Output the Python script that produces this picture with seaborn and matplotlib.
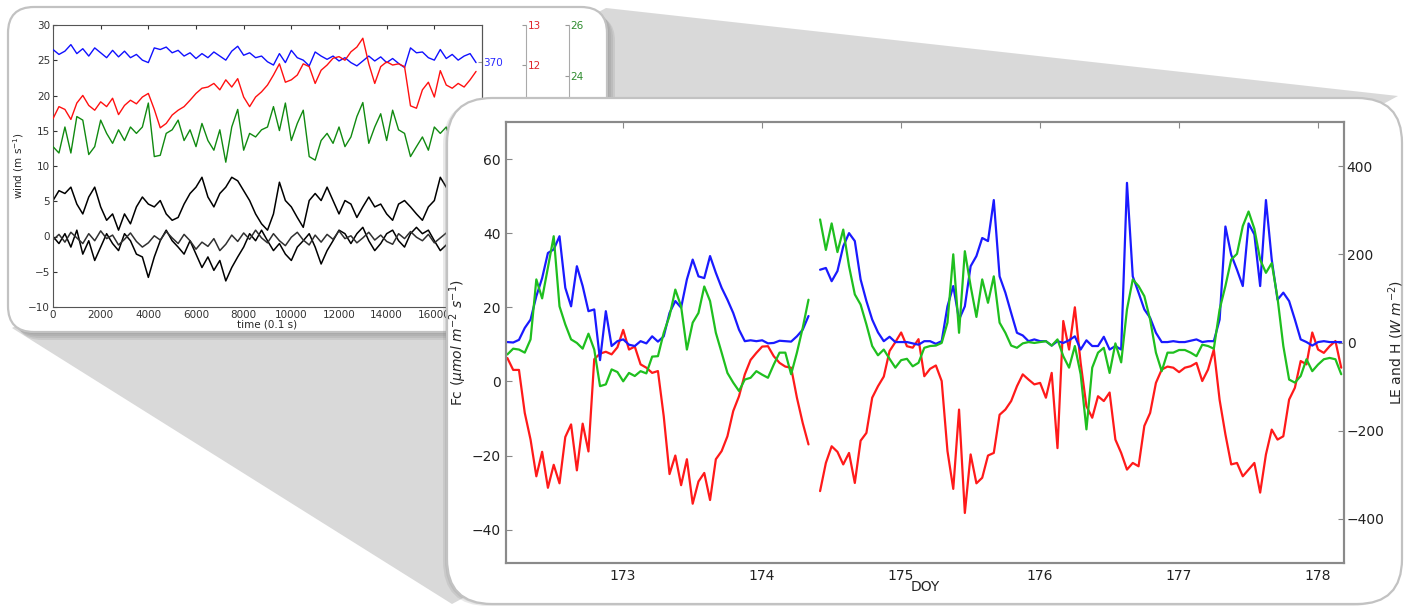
import numpy as np
import pandas as pd
import matplotlib
matplotlib.use("Agg")
import matplotlib.pyplot as plt
from matplotlib.patches import FancyBboxPatch, Polygon
import seaborn as sns

sns.set_style("white")
plt.rcParams["font.family"] = ["DejaVu Sans"]
plt.rcParams["mathtext.fontset"] = "dejavusans"

# ---- small inset: raw 10 Hz record (every 250 samples) ----
time_01s = np.arange(0, 18000, 250)
co2_ppm = [371.5, 370.9, 371.3, 372.1, 371.0, 371.6, 370.7, 371.7, 371.1, 370.5,
           371.4, 370.6, 371.3, 370.5, 370.9, 370.2, 369.9, 371.7, 371.5, 371.8,
           371.1, 371.4, 370.7, 371.1, 370.4, 371.0, 370.5, 371.2, 370.7, 370.2,
           371.3, 371.9, 370.8, 371.1, 370.5, 370.7, 370.0, 369.6, 371.0, 369.9,
           371.4, 370.5, 370.2, 369.5, 371.2, 370.7, 370.3, 370.7, 370.1, 370.5,
           369.9, 369.5, 370.1, 370.7, 370.1, 370.6, 369.9, 370.4, 369.8, 369.3,
           371.7, 371.1, 371.2, 370.5, 370.2, 371.5, 370.4, 370.9, 370.2, 370.7,
           371.0, 369.9]
h2o_val = [10.66, 10.96, 10.89, 10.64, 11.05, 11.24, 10.99, 10.87, 11.08, 10.96,
           11.17, 10.76, 10.99, 11.12, 11.03, 11.20, 11.29, 10.89, 10.43, 10.54,
           10.75, 10.87, 10.96, 11.12, 11.29, 11.42, 11.45, 11.54, 11.38, 11.63,
           11.45, 11.66, 11.20, 10.96, 11.20, 11.33, 11.50, 11.75, 12.03, 11.57,
           11.63, 11.75, 12.03, 11.96, 11.54, 11.87, 12.00, 12.17, 12.21, 12.12,
           12.33, 12.45, 12.67, 12.03, 11.54, 11.96, 12.08, 12.00, 12.03, 11.96,
           10.98, 10.92, 11.38, 11.57, 11.20, 11.86, 11.50, 11.42, 11.54, 11.45,
           11.63, 11.84]
temp_val = [21.23, 20.98, 22.00, 20.98, 22.41, 22.27, 20.92, 21.23, 22.27, 21.75,
            21.36, 21.89, 21.47, 22.00, 21.75, 22.00, 22.94, 20.84, 20.89, 21.75,
            21.89, 22.27, 21.47, 21.89, 21.23, 22.14, 21.47, 21.09, 21.89, 20.62,
            22.00, 22.69, 21.09, 21.75, 21.61, 21.89, 22.00, 22.80, 21.86, 22.94,
            21.47, 22.14, 22.66, 20.84, 20.70, 21.47, 21.75, 21.36, 22.00, 21.23,
            21.61, 22.41, 22.96, 21.36, 22.00, 22.52, 21.47, 22.66, 21.89, 21.75,
            20.84, 21.23, 21.61, 21.09, 22.00, 21.75, 22.00, 21.31, 21.86, 21.58,
            22.14, 21.72]
u_wind = [5.1, 6.5, 6.1, 7.0, 4.6, 3.2, 5.6, 7.0, 4.2, 2.3,
          3.2, 0.9, 3.2, 1.8, 4.2, 5.6, 4.6, 4.2, 5.1, 3.2,
          2.3, 2.7, 4.6, 6.1, 7.0, 8.4, 5.6, 4.2, 6.1, 7.0,
          8.4, 7.9, 6.5, 5.1, 3.2, 1.8, 0.9, 3.2, 7.7, 5.1,
          4.2, 2.7, 1.3, 5.1, 6.1, 5.1, 7.0, 5.1, 3.2, 5.1,
          4.6, 2.7, 4.2, 5.6, 4.2, 4.6, 3.2, 2.3, 4.6, 5.1,
          4.2, 3.2, 2.3, 4.2, 5.1, 8.4, 7.0, 6.0, 5.0, 6.5,
          5.5, 4.8]
v_wind = [0.0, -1.0, 0.4, -1.5, 0.9, -2.5, -0.6, -3.4, -1.5, 0.4,
          -1.0, -2.0, 0.4, -0.6, -2.5, -2.9, -5.8, -2.9, -0.6, 0.9,
          -0.6, -1.5, -2.5, -0.6, -2.5, -4.4, -2.9, -4.8, -3.4, -6.3,
          -4.4, -2.9, -1.5, 0.4, -0.6, 0.9, -0.6, -2.0, -1.0, -2.5,
          -3.4, -1.5, -0.6, 0.4, -1.5, -3.9, -2.0, -0.6, 0.9, 0.4,
          -1.0, 0.4, 1.3, -0.6, -2.0, -1.0, 0.4, 0.9, -0.6, -1.5,
          0.4, 1.3, 0.4, 0.9, -0.6, -2.0, -1.2, -0.3, -1.0, 0.2,
          -0.8, -1.5]
w_wind = [-0.5, 0.3, -0.8, 0.6, -0.2, -1.0, 0.4, -0.6, 0.8, -0.3,
          0.2, -1.2, -0.4, 0.5, -0.7, -1.5, -0.9, 0.1, -0.5, 0.7,
          -0.2, -1.0, 0.3, -0.6, -1.8, -0.8, -1.4, -0.3, -2.0, -1.1,
          0.2, -0.7, 0.5, -0.4, 0.9, -0.2, -0.9, 0.4, -0.6, -1.3,
          -0.1, 0.6, -0.5, -1.2, 0.2, -0.8, 0.3, -0.4, 0.8, -0.3,
          0.1, -0.9, -0.2, 0.6, -0.5, 0.2, -0.7, -1.1, 0.4, -0.3,
          0.7, -0.1, -0.6, 0.3, -0.9, -0.2, 0.5, -0.4, 0.1, -0.7,
          0.2, -0.5]

# ---- big panel: hourly fluxes, DOY 172-178 ----
doy = 172.17 + np.arange(145) / 24.0
nan = np.nan
fc = [6.3, 3.1, 3.1, -8.5, -15.7, -25.6, -19.0, -28.7, -22.5, -27.5, -15.0, -11.6, -24.0,
      -11.4, -18.9, 6.0, 7.5, 8.0, 7.3, 9.2, 13.9, 8.6, 9.4, 4.6, 3.7,
      2.3, 2.8, -9.4, -25.0, -20.0, -28.0, -21.0, -33.0, -27.0, -24.7, -32.0, -21.0,
      -18.8, -14.8, -8.0, -4.0, 1.9, 5.8, 7.7, 9.4, 9.5, 6.8, 5.0, 4.0,
      3.7, -4.4, -11.2, -17.0, nan, -29.6, -22.0, -17.5, -19.0, -22.4, -19.3, -27.4,
      -16.0, -13.9, -4.4, -1.3, 1.3, 8.2, 10.6, 13.2, 9.5, 9.1, 11.4, 1.4,
      3.4, 4.3, 0.1, -18.8, -29.0, -7.6, -35.5, -19.7, -27.5, -26.0, -20.0, -19.3,
      -9.0, -7.6, -5.3, -1.3, 1.9, 0.5, -0.8, -0.4, -4.4, 2.3, -18.0, 16.3,
      8.6, 20.0, 5.0, -6.7, -9.8, -4.0, -5.3, -3.0, -15.7, -19.3, -23.8, -22.0,
      -22.9, -12.0, -8.5, -0.4, 3.2, 4.0, 3.7, 2.5, 3.7, 4.1, 5.0, 0.1,
      3.2, 8.6, -5.0, -14.3, -22.4, -22.0, -25.6, -23.8, -22.0, -30.0, -19.7, -13.0,
      -15.7, -14.8, -4.9, -1.7, 5.5, 4.6, 13.2, 8.6, 7.7, 9.5, 10.9, 3.7]
le = [1, 0, 6, 33, 52, 105, 146, 203, 211, 241, 124, 82, 173,
      128, 71, 75, -40, 71, -8, 3, 7, -5, -8, 3, -2,
      14, 2, 14, 67, 94, 79, 143, 188, 150, 146, 196, 158,
      124, 97, 67, 29, 3, 5, 3, 5, -2, -1, 4, 3,
      2, 14, 29, 60, nan, 165, 169, 139, 162, 218, 248, 230,
      143, 94, 52, 23, 3, 13, 1, 1, 1, -2, -5, 3,
      3, -3, 3, 82, 128, 52, 82, 173, 196, 237, 230, 323,
      150, 113, 67, 22, 16, 3, 7, 3, 3, -7, 3, -1,
      5, 14, -16, 5, -8, -8, 13, -16, -8, -16, 362, 150,
      113, 75, 56, 22, 1, 1, 3, 1, 1, 4, 7, 1,
      3, 3, 52, 263, 199, 165, 128, 270, 245, 128, 323, 188,
      97, 113, 94, 52, 7, 1, -7, 1, 3, 1, 1, 1]
h = [-27, -14, -16, -23, 7, 143, 100, 170, 241, 82, 41, 7, -1,
     -14, 20, -16, -99, -95, -61, -67, -88, -69, -76, -65, -70,
     -32, -31, 22, 60, 120, 82, -16, 45, 67, 127, 94, 22,
     -23, -69, -91, -110, -84, -80, -65, -73, -80, -50, -23, -23,
     -72, -23, 33, 97, nan, 279, 210, 270, 205, 256, 173, 109,
     86, 41, -8, -29, -16, -37, -57, -40, -37, -54, -46, -12,
     -8, -7, -1, 45, 200, 22, 207, 128, 58, 143, 90, 150,
     45, 22, -7, -12, -2, 1, -1, 1, 3, -7, 7, -31,
     -57, -8, -72, -197, -57, -23, -12, -69, -2, -45, 75, 143,
     128, 105, 52, -23, -65, -23, -23, -17, -17, -23, -31, -5,
     -8, -14, 75, 128, 188, 201, 264, 297, 258, 188, 158, 180,
     101, -8, -84, -91, -76, -38, -65, -50, -38, -35, -38, -72]

raw = pd.DataFrame({"t": time_01s, "co2": co2_ppm, "h2o": h2o_val, "temp": temp_val,
                    "u": u_wind, "v": v_wind, "w": w_wind})
flux = pd.DataFrame({"doy": doy, "fc": fc, "le": le, "h": h})
flux["seg"] = flux["fc"].isna().cumsum()
flux = flux.dropna()

W, H = 1408, 607
fig = plt.figure(figsize=(W / 100, H / 100), dpi=100, facecolor="white")


def box(x0, y0, x1, y1):
    # pixel box (top-down) -> figure fraction
    return [x0 / W, 1 - y1 / H, (x1 - x0) / W, (y1 - y0) / H]


def overlay(z):
    a = fig.add_axes([0, 0, 1, 1], zorder=z)
    a.set_xlim(0, W)
    a.set_ylim(H, 0)
    a.axis("off")
    a.patch.set_visible(False)
    return a


def frame(a, x0, y0, x1, y1, r, shadow):
    for dx, dy in shadow:
        a.add_patch(FancyBboxPatch((x0 + dx, y0 + dy), x1 - x0, y1 - y0,
                                   boxstyle=f"round,pad=0,rounding_size={r}",
                                   fc="#7a7a7a", ec="none", alpha=0.16))
    a.add_patch(FancyBboxPatch((x0, y0), x1 - x0, y1 - y0,
                               boxstyle=f"round,pad=0,rounding_size={r}",
                               fc="white", ec="#c2c2c2", lw=1.6))


bg = overlay(0)
bg.add_patch(Polygon([(606, 8), (1398, 96), (452, 604), (12, 328)],
                     closed=True, fc="#d9d9d9", ec="none"))
frame(bg, 8, 7, 607, 332, 26, [(2, 2), (4, 4), (6, 6), (8, 8)])

# ---- inset chart ----
ax1 = fig.add_axes(box(53, 25, 482, 307), zorder=1)
for col, c in [("u", "black"), ("v", "black"), ("w", "#303030")]:
    sns.lineplot(data=raw, x="t", y=col, color=c, linewidth=1.1, ax=ax1)
ax1.set_xlim(0, 18000)
ax1.set_ylim(-10, 30)
ax1.set_xticks(range(0, 16001, 2000))
ax1.set_yticks(range(-10, 31, 5))
ax1.set_xlabel("time (0.1 s)", fontsize=7.5, labelpad=0)
ax1.set_ylabel("wind (m s$^{-1}$)", fontsize=7.5, labelpad=2)
ax1.tick_params(direction="in", length=3, labelsize=7.5, top=True, pad=2,
                colors="#333333")
for s in ax1.spines.values():
    s.set_color("#555555")
    s.set_linewidth(0.8)

for col, c, lab, lim, ticks, pos in [
        ("co2", "#1010ff", "#2a2aff", (340, 374.5), [370], 1.0),
        ("h2o", "#ff1010", "#e0262b", (5.95, 13.001), list(range(6, 14)), 1.1026),
        ("temp", "#108a10", "#2e8b2e", (14.94, 26.001), list(range(16, 27, 2)), 1.2028)]:
    p = ax1.twinx()
    p.set_zorder(1)
    sns.lineplot(data=raw, x="t", y=col, color=c, linewidth=1.0, ax=p)
    p.set_ylim(*lim)
    p.set_yticks(ticks)
    p.set_ylabel("")
    p.spines["right"].set_position(("axes", pos))
    for k in ["left", "top", "bottom"]:
        p.spines[k].set_visible(False)
    p.spines["right"].set_color("#555555" if pos == 1.0 else "#aaaaaa")
    p.spines["right"].set_linewidth(0.8)
    p.tick_params(axis="y", direction="in", length=3, labelsize=7.5, pad=1,
                  colors="#999999", labelcolor=lab)

# ---- big chart frame ----
mid = overlay(2)
frame(mid, 447, 98, 1402, 604, 45, [(-2, 1), (-4, 2)])

ax2 = fig.add_axes(box(506, 122, 1344, 563), zorder=3)
sns.lineplot(data=flux, x="doy", y="fc", units="seg", estimator=None,
             color="#ff1a1a", linewidth=1.6, ax=ax2)
ax2.set_xlim(172.16, 178.19)
ax2.set_ylim(-49, 70)
ax2.set_xticks(range(173, 179))
ax2.set_yticks(range(-40, 61, 20))
ax2.set_xlabel("DOY", fontsize=10, labelpad=-2)
ax2.set_ylabel("Fc ($\\mu mol\\ m^{-2}\\ s^{-1}$)", fontsize=10, labelpad=2)
ax2.tick_params(direction="in", length=4, labelsize=10, top=True, pad=4,
                colors="#888888", labelcolor="#222222")

ax3 = ax2.twinx()
ax3.set_zorder(3)
sns.lineplot(data=flux, x="doy", y="le", units="seg", estimator=None,
             color="#1a1aff", linewidth=1.6, ax=ax3)
sns.lineplot(data=flux, x="doy", y="h", units="seg", estimator=None,
             color="#1fbf1f", linewidth=1.6, ax=ax3)
ax3.set_ylim(-500, 500)
ax3.set_yticks(range(-400, 401, 200))
ax3.set_ylabel("LE and H ($W\\ m^{-2}$)", fontsize=10, labelpad=1)
ax3.tick_params(direction="in", length=4, labelsize=10, pad=2,
                colors="#888888", labelcolor="#222222")
for a in (ax2, ax3):
    for s in a.spines.values():
        s.set_color("#8a8a8a")
        s.set_linewidth(1.5)

fig.savefig("out.png", dpi=100, facecolor=fig.get_facecolor())
